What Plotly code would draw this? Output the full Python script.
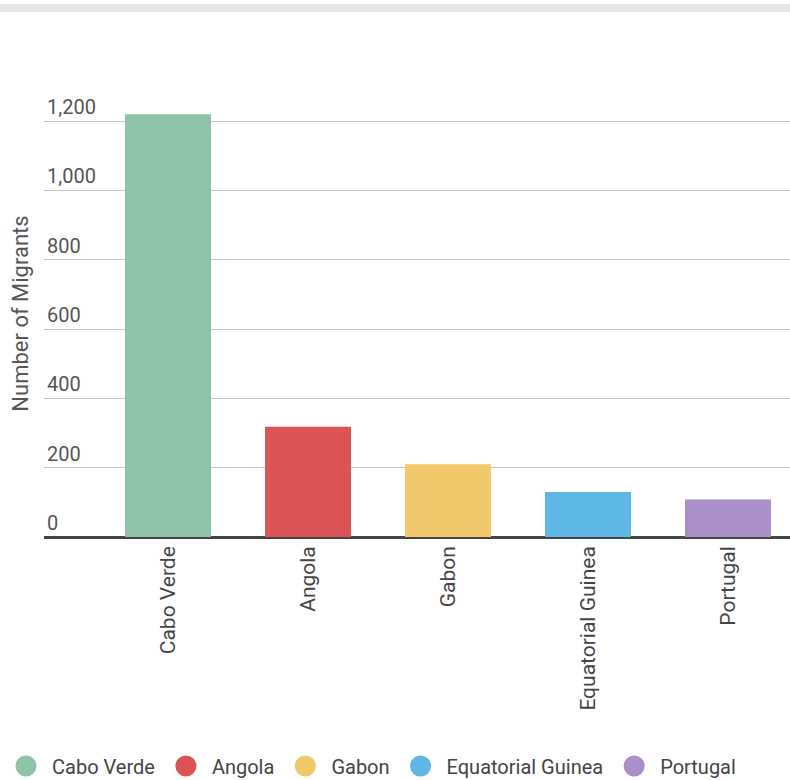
import plotly.graph_objects as go

categories = ["Cabo Verde", "Angola", "Gabon", "Equatorial Guinea", "Portugal"]
values = [1220, 318, 210, 130, 108]
colors = ["#8ec3a7", "#dc5356", "#f0ca6a", "#5fb7e5", "#ab8fc8"]
y_ticks = [0, 200, 400, 600, 800, 1000, 1200]

fig = go.Figure()
for c, v, col in zip(categories, values, colors):
    fig.add_trace(go.Bar(x=[c], y=[v], marker=dict(color=col, line=dict(width=0)),
                         width=0.614, showlegend=False, name=c))
for c, col in zip(categories, colors):
    fig.add_trace(go.Scatter(x=[None], y=[None], mode="markers", name=c,
                             marker=dict(symbol="circle", size=24, color=col,
                                         line=dict(width=5, color=col))))

fig.update_layout(
    width=790, height=780,
    margin=dict(l=44, r=0, t=90, b=243),
    plot_bgcolor="white", paper_bgcolor="white",
    barmode="overlay",
    font=dict(family="Roboto", color="#555555"),
    xaxis=dict(categoryorder="array", categoryarray=categories,
               range=[-0.886, 4.443], tickangle=-90,
               tickfont=dict(size=21, color="#444444"),
               ticklabelstandoff=4,
               showgrid=False, ticks="", showline=False),
    yaxis=dict(range=[0, 1290], tickvals=y_ticks, tickformat=",",
               ticklabelposition="inside top",
               tickfont=dict(size=20, color="#555555"),
               gridcolor="#c4c4c4", gridwidth=1,
               zeroline=True, zerolinecolor="#444444", zerolinewidth=3,
               title=dict(text="Number of Migrants", font=dict(size=22, color="#555555"),
                          standoff=12)),
    legend=dict(orientation="h", xref="container", yref="container",
                x=0.0, y=0.018, xanchor="left", yanchor="middle",
                font=dict(size=20, color="#444444"), itemsizing="trace",
                itemwidth=42),
    shapes=[dict(type="rect", xref="paper", yref="paper",
                 x0=-44/746, x1=1.0, y0=(537-4)/447, y1=(537-12)/447,
                 fillcolor="#e6e6e6", line=dict(width=0))],
)

fig.write_html("out.html")
